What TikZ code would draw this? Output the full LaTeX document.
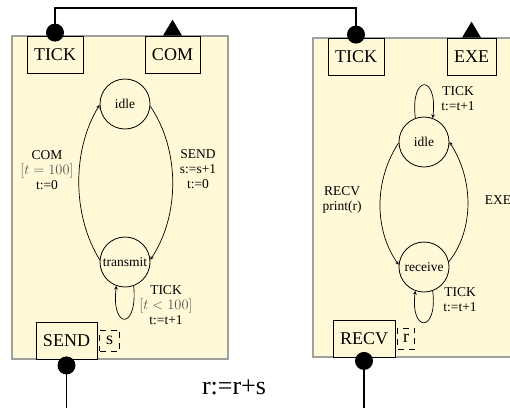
\documentclass[tikz,border=0pt]{standalone}
\usepackage{fontspec}
\setmainfont{Liberation Serif}
\usepackage{xcolor}
\usepackage{tikz}
\usetikzlibrary{shapes,arrows,positioning,calc}
\definecolor{panelfill}{RGB}{255,249,216}
\definecolor{panelline}{RGB}{160,160,160}
\definecolor{guardgray}{RGB}{85,85,85}

\begin{document}
\begin{tikzpicture}[x=1pt, y=-1pt,
    panel/.style={draw=panelline, fill=panelfill, line width=1.2pt},
    port/.style={rectangle, draw, fill=panelfill, minimum height=37pt, inner sep=0pt, line width=0.8pt, font=\fontsize{18}{20}\selectfont},
    varbox/.style={rectangle, draw, dash pattern=on 6pt off 5pt, minimum width=20pt, minimum height=21pt, inner sep=0pt, font=\fontsize{18}{20}\selectfont},
    loc/.style={circle, draw, minimum size=50pt, inner sep=0pt, line width=0.8pt, font=\fontsize{13.5}{15}\selectfont},
    lbl/.style={align=center, font=\fontsize{13.5}{15}\selectfont},
    dot/.style={circle, fill=black, minimum size=18pt, inner sep=0pt},
    wire/.style={line width=1.5pt},
    arrow/.style={->, >=stealth, line width=0.7pt}
]

\useasboundingbox (0,0) rectangle (510,407);
\clip (0,0) rectangle (510,407);

% Panels
\draw[panel] (12,36) rectangle (228,359);
\draw[panel] (313,38) rectangle (540,357);

% Ports of the sender
\node[port, minimum width=56pt] (tickL) at (55,54.5) {TICK};
\node[port, minimum width=55pt] (comL) at (172.5,54.5) {COM};
\node[port, minimum width=61pt] (sendL) at (66.5,340.5) {SEND};
\node[varbox, right=2pt of sendL] (sVar) {s};

% Ports of the receiver
\node[port, minimum width=56pt] (tickR) at (356,56.5) {TICK};
\node[port, minimum width=49pt] (exeR) at (471.5,56.5) {EXE};
\node[port, minimum width=62pt] (recvR) at (364,338.5) {RECV};
\node[varbox, minimum width=17pt, right=2pt of recvR] (rVar) {r};

% Output triangles
\fill ([xshift=-9.5pt]comL.north) -- ([xshift=9.5pt]comL.north) -- ([yshift=16pt]comL.north) -- cycle;
\fill ([xshift=-9.5pt]exeR.north) -- ([xshift=9.5pt]exeR.north) -- ([yshift=16pt]exeR.north) -- cycle;

% Wires
\coordinate (bus) at (200,8);
\coordinate (bottomEdge) at (0,415);
\node[dot] (dTickL) at ([yshift=3pt]tickL.north) {};
\node[dot] (dTickR) at ([yshift=3pt]tickR.north) {};
\node[dot] (dSendL) at ([yshift=-6pt]sendL.south) {};
\node[dot] (dRecvR) at ([yshift=-3.5pt]recvR.south) {};
\draw[wire] (dTickL.center) |- (bus) -| (dTickR.center);
\draw[wire] (dSendL.center) -- (dSendL.center |- bottomEdge);
\draw[wire] (dRecvR.center) -- (dRecvR.center |- bottomEdge);

% Sender automaton
\node[loc] (idleL) at (125,104) {idle};
\node[loc] (transmit) at (125,262) {transmit};
\draw[arrow] (transmit.175) .. controls (72,215) and (72,150) .. (idleL.182);
\draw[arrow] (idleL.-5) .. controls (180,150) and (180,215) .. (transmit.5);
\draw[arrow] (transmit.-70) .. controls (138,330) and (111,330) .. (transmit.-110);
\node[lbl] (gCom) at (47,170) {COM\\\textcolor{guardgray}{$[t=100]$}\\t:=0};
\node[lbl] (gSend) at (198,169) {SEND\\s:=s+1\\t:=0};
\node[lbl] (gTick) at (166,305) {TICK\\\textcolor{guardgray}{$[t<100]$}\\t:=t+1};

% Receiver automaton
\node[loc] (idleR) at (424,142) {idle};
\node[loc] (receive) at (424,267) {receive};
\draw[arrow] (idleR.182) .. controls (374,180) and (374,230) .. (receive.175);
\draw[arrow] (receive.12) .. controls (474,230) and (474,180) .. (idleR.0);
\draw[arrow] (idleR.110) .. controls (410,74) and (438,74) .. (idleR.70);
\draw[arrow] (receive.-70) .. controls (438,333) and (410,333) .. (receive.-110);
\node[lbl] (gTickIdle) at (458,99) {TICK\\t:=t+1};
\node[lbl] (gTickRecv) at (460,300) {TICK\\t:=t+1};
\node[lbl] (gRecv) at (342,200) {RECV\\print(r)};
\node[lbl] (gExe) at (498,200) {EXE};

% Channel
\node[font=\fontsize{26}{28}\selectfont] (sum) at (234,387) {r:=r+s};

\end{tikzpicture}
\end{document}
